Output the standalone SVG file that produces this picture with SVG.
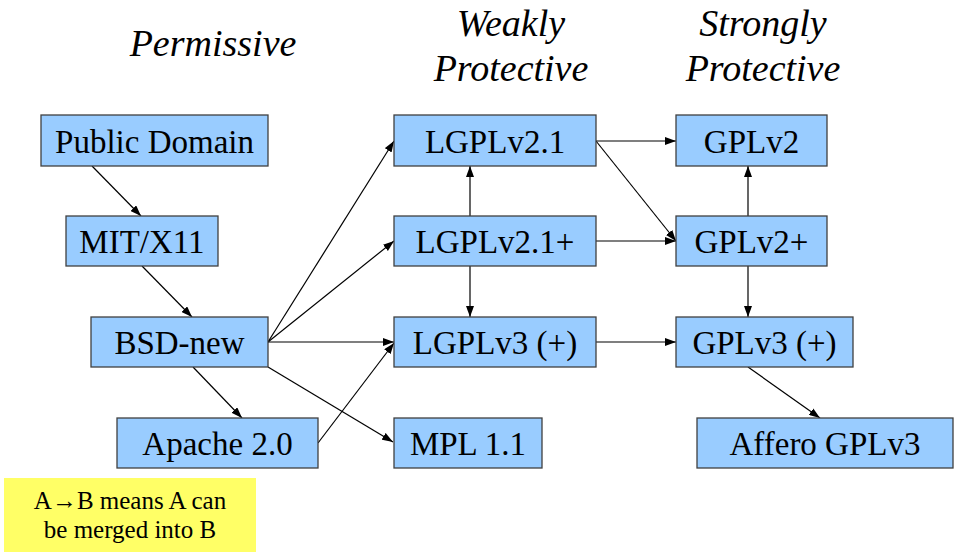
<svg xmlns="http://www.w3.org/2000/svg" width="956" height="552" viewBox="0 0 956 552">
<style>
.n rect{fill:#99ccff;stroke:#404040;stroke-width:1.3}
.n text{font-family:'Liberation Serif','Times New Roman',serif;font-size:33px;fill:#000;text-anchor:middle}
.h{font-family:'Liberation Serif','Times New Roman',serif;font-size:38px;font-style:italic;fill:#000;text-anchor:middle}
#edges line{stroke:#000;stroke-width:1.2;marker-end:url(#ah)}
.lg text{font-family:'Liberation Serif','Times New Roman',serif;font-size:25px;fill:#000;text-anchor:middle}
</style>
<defs>
<marker id="ah" viewBox="0 0 11 8" refX="11" refY="4" markerWidth="11" markerHeight="8" markerUnits="userSpaceOnUse" orient="auto">
<path d="M0,0 L11,4 L0,8 z" fill="#000"/>
</marker>
</defs>
<rect width="956" height="552" fill="#fff"/>
<text class="h" x="213" y="56">Permissive</text>
<text class="h" x="511" y="36">Weakly</text>
<text class="h" x="511" y="81">Protective</text>
<text class="h" x="763" y="36">Strongly</text>
<text class="h" x="763" y="81">Protective</text>

<g id="edges">
<line x1="92" y1="166" x2="141" y2="216"/>
<line x1="142" y1="266" x2="192" y2="317"/>
<line x1="193" y1="367" x2="242" y2="418"/>
<line x1="268" y1="342" x2="394" y2="141"/>
<line x1="268" y1="342" x2="394" y2="241"/>
<line x1="268" y1="342" x2="394" y2="342"/>
<line x1="268" y1="367" x2="393" y2="442"/>
<line x1="318" y1="443" x2="394" y2="343"/>
<line x1="470" y1="216" x2="470" y2="166"/>
<line x1="470" y1="266" x2="470" y2="317"/>
<line x1="596" y1="141" x2="676" y2="141"/>
<line x1="596" y1="141" x2="676" y2="241"/>
<line x1="596" y1="241" x2="676" y2="241"/>
<line x1="596" y1="342" x2="676" y2="342"/>
<line x1="748" y1="216" x2="748" y2="166"/>
<line x1="748" y1="266" x2="748" y2="317"/>
<line x1="748" y1="367" x2="820" y2="418"/>
</g>

<g id="public-domain" class="n"><rect x="41" y="115" width="227" height="51"/><text x="154.5" y="153">Public Domain</text></g>
<g id="mit-x11" class="n"><rect x="66" y="216" width="152" height="50"/><text x="142" y="253">MIT/X11</text></g>
<g id="bsd-new" class="n"><rect x="91" y="317" width="177" height="50"/><text x="179.5" y="354">BSD-new</text></g>
<g id="apache" class="n"><rect x="117" y="418" width="201" height="50"/><text x="217.5" y="455">Apache 2.0</text></g>
<g id="lgplv21" class="n"><rect x="394" y="115" width="202" height="51"/><text x="495" y="153">LGPLv2.1</text></g>
<g id="lgplv21plus" class="n"><rect x="394" y="216" width="202" height="50"/><text x="495" y="253">LGPLv2.1+</text></g>
<g id="lgplv3" class="n"><rect x="394" y="317" width="202" height="50"/><text x="495" y="354">LGPLv3 (+)</text></g>
<g id="mpl" class="n"><rect x="394" y="418" width="148" height="50"/><text x="468" y="455">MPL 1.1</text></g>
<g id="gplv2" class="n"><rect x="676" y="115" width="151" height="51"/><text x="751.5" y="153">GPLv2</text></g>
<g id="gplv2plus" class="n"><rect x="676" y="216" width="151" height="50"/><text x="751.5" y="253">GPLv2+</text></g>
<g id="gplv3" class="n"><rect x="676" y="317" width="177" height="50"/><text x="764.5" y="354">GPLv3 (+)</text></g>
<g id="affero" class="n"><rect x="697" y="418" width="256" height="50"/><text x="825" y="455">Affero GPLv3</text></g>

<g id="legend" class="lg">
<rect x="4" y="478" width="252" height="74" fill="#ffff66"/>
<text x="130" y="509">A→B means A can</text>
<text x="130" y="538">be merged into B</text>
</g>
</svg>
